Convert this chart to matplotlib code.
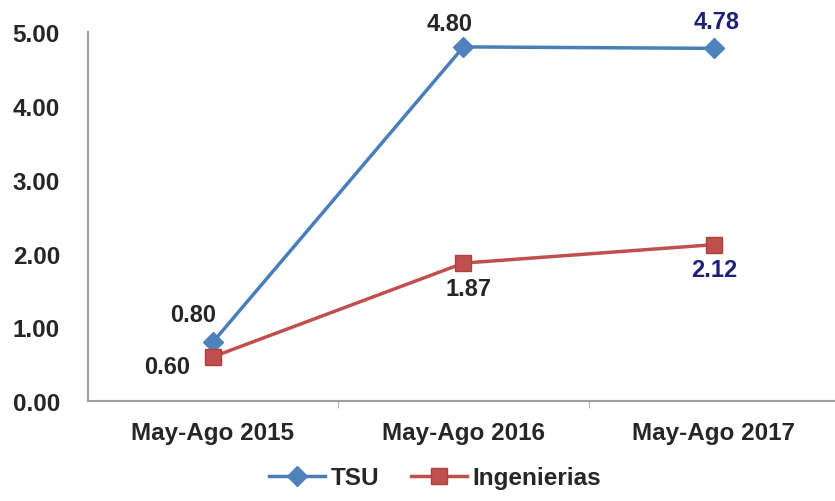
import matplotlib.pyplot as plt
import numpy as np

plt.rcParams['font.family'] = ['Liberation Sans', 'DejaVu Sans']
plt.rcParams['font.weight'] = 'bold'

# Data
periods = ["May-Ago 2015", "May-Ago 2016", "May-Ago 2017"]
tsu = [0.80, 4.80, 4.78]
ing = [0.60, 1.87, 2.12]
yticks = [0, 1, 2, 3, 4, 5]

fig = plt.figure(figsize=(8.35, 5.02), dpi=100)
ax = fig.add_axes([0.105, 0.199, 0.9, 0.735])

x = np.arange(len(periods))
ax.plot(x, tsu, color='#4A7EBB', lw=2.5, marker='D', ms=10,
        mfc='#4F81BD', mec='#4F81BD', label='TSU', zorder=3)
ax.plot(x, ing, color='#C0504D', lw=2.5, marker='s', ms=12,
        mfc='#C0504D', mec='#B0403D', label='Ingenierias', zorder=3)

# Data labels (value, offset in points, colour)
fs = 17
dark = '#262626'
navy = '#1F1F7A'
labels = [
    (x[0], tsu[0], (-14, 20), dark),
    (x[1], tsu[1], (-10, 17), dark),
    (x[2], tsu[2], (2, 19), navy),
    (x[0], ing[0], (-33, -7), dark),
    (x[1], ing[1], (4, -18), dark),
    (x[2], ing[2], (0, -18), navy),
]
for xi, yi, off, c in labels:
    ax.annotate(f"{yi:.2f}", (xi, yi), xytext=off, textcoords='offset points',
                ha='center', va='center', fontsize=fs, color=c, fontweight='bold')

ax.set_xlim(-0.5, 2.5)
ax.set_ylim(0, 5)
ax.set_yticks(yticks)
ax.set_yticklabels([f"{v:.2f}" for v in yticks])
ax.set_xticks(x)
ax.set_xticklabels(periods)
ax.set_xticks([0.5, 1.5], minor=True)
ax.tick_params(axis='x', which='major', length=0, pad=14, labelsize=17.5, labelcolor=dark)
ax.tick_params(axis='x', which='minor', length=5, color='#A0A0A0')
ax.tick_params(axis='y', length=0, pad=20, labelsize=17.5, labelcolor=dark)

for s in ['top', 'right']:
    ax.spines[s].set_visible(False)
ax.spines['left'].set_color('#A0A0A0')
ax.spines['bottom'].set_color('#A0A0A0')
ax.spines['left'].set_linewidth(1.5)
ax.spines['bottom'].set_linewidth(1.5)

leg = fig.legend(loc='lower center', bbox_to_anchor=(0.521, -0.02), ncol=2, frameon=False,
                 fontsize=17.5, handlelength=2.3, columnspacing=1.3, handletextpad=0.25)
for t in leg.get_texts():
    t.set_color(dark)

fig.savefig('out.png', dpi=100)
